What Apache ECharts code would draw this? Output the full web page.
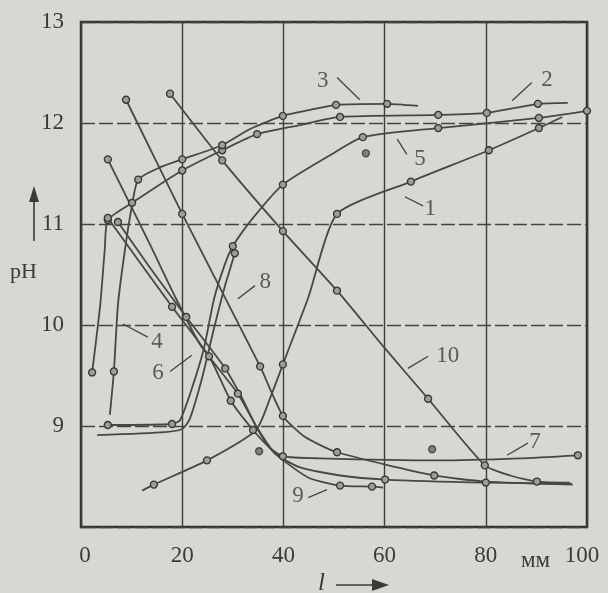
<!DOCTYPE html>
<html><head><meta charset="utf-8">
<script src="https://cdn.jsdelivr.net/npm/echarts@6/dist/echarts.min.js"></script>
<style>html,body{margin:0;padding:0;background:#d7d7d4;}#c{width:608px;height:593px;}</style>
</head><body><div id="c"></div>
<script>
// x: l, mm ; y: pH ; third value: 1 = measured point (marker), 0 = drawn curve only
const xTicks = [0, 20, 40, 60, 80, 100];
const yTicks = [9, 10, 11, 12, 13];
const curve1 = [[12.1,8.36,0],[14.4,8.42,1],[24.9,8.66,1],[34.6,8.96,0],[37.4,9.28,0],[39.9,9.61,1],[44.9,10.27,0],[50.6,11.10,1],[65.2,11.42,1],[80.6,11.73,1],[90.5,11.95,1],[95.1,12.06,0]];
const curve2 = [[2.2,9.53,1],[3.8,10.20,0],[4.7,10.75,0],[5.3,11.04,1],[10.1,11.21,1],[20.0,11.53,1],[27.9,11.73,1],[34.8,11.89,1],[43.3,11.98,0],[51.2,12.06,1],[70.6,12.08,1],[80.2,12.10,1],[90.3,12.19,1],[96.2,12.20,0]];
const curve3 = [[5.7,9.11,0],[6.5,9.54,1],[7.3,10.20,0],[8.7,10.75,0],[10.1,11.19,0],[11.3,11.44,1],[15.6,11.56,0],[20.0,11.64,1],[27.9,11.78,1],[33.4,11.94,0],[39.9,12.07,1],[45.3,12.13,0],[50.4,12.18,1],[60.5,12.19,1],[66.6,12.17,0]];
const curve4 = [[5.3,11.64,1],[13.6,10.80,0],[18.8,10.26,0],[23.5,9.81,0],[31.0,9.32,1],[34.6,9.00,0],[38.3,8.73,0],[43.3,8.59,0],[51.2,8.51,0],[60.1,8.47,1],[80.0,8.44,1],[97.0,8.43,0]];
const curve5 = [[5.3,9.01,1],[18.0,9.02,1],[19.6,9.06,0],[21.9,9.37,0],[24.3,9.77,0],[26.3,10.26,0],[28.5,10.61,0],[30.0,10.78,1],[34.0,11.06,0],[39.9,11.39,1],[49.2,11.68,0],[55.7,11.86,1],[70.6,11.95,1],[90.5,12.05,1],[100,12.12,1]];
const curve6 = [[3.2,8.91,0],[16.6,8.94,0],[20.0,8.97,0],[21.5,9.07,0],[23.9,9.47,0],[26.3,9.97,0],[28.3,10.36,0],[30.4,10.71,1]];
const curve7 = [[5.3,11.06,1],[18.0,10.18,1],[25.3,9.69,1],[29.6,9.25,1],[34.0,8.96,1],[37.4,8.78,0],[39.9,8.70,1],[47.2,8.68,0],[70.4,8.66,0],[86.8,8.68,0],[98.2,8.71,1]];
const curve8 = [[8.9,12.23,1],[20.0,11.10,1],[35.4,9.59,1],[39.9,9.10,1],[44.3,8.89,0],[50.6,8.74,1],[69.8,8.51,1],[80.0,8.45,0],[97.2,8.42,0]];
const curve9 = [[7.3,11.02,1],[13.6,10.57,0],[20.8,10.08,1],[28.5,9.57,1],[31.8,9.28,0],[35.0,8.96,0],[37.7,8.76,0],[41.3,8.61,0],[45.3,8.48,0],[51.2,8.41,1],[57.5,8.40,1],[59.7,8.39,0]];
const curve10 = [[17.6,12.29,1],[27.9,11.63,1],[39.9,10.93,1],[50.6,10.34,1],[59.7,9.79,0],[68.6,9.27,1],[79.8,8.61,1],[84.8,8.51,0],[90.1,8.45,1],[96.6,8.44,0]];
const loosePoints = [[35.2,8.75],[69.4,8.77],[56.3,11.70]];
const curveLabels = [['1',69.0,11.15],['2',92.1,12.43],['3',47.8,12.42],['4',15.0,9.83],['5',67.0,11.64],['6',15.2,9.53],['7',89.7,8.84],['8',36.4,10.43],['9',42.9,8.31],['10',72.5,9.69]];
const leaders = [[[64.0,11.27],[67.6,11.18]],[[85.2,12.22],[89.1,12.40]],[[50.6,12.45],[55.1,12.23]],[[8.3,10.01],[13.2,9.88]],[[62.5,11.84],[64.4,11.69]],[[17.6,9.54],[21.9,9.70]],[[84.2,8.71],[88.3,8.83]],[[31.0,10.26],[34.4,10.39]],[[44.9,8.29],[48.6,8.37]],[[64.6,9.57],[68.6,9.69]]];

const FONT = "'Liberation Serif','Times New Roman',serif";
const INK = '#3a3a3a';
const curves = [curve1,curve2,curve3,curve4,curve5,curve6,curve7,curve8,curve9,curve10];
const series = curves.map((c, i) => ({
  type: 'line', name: 'curve' + (i + 1),
  data: c.map(p => ({ value: [p[0], p[1]], symbol: p[2] ? 'circle' : 'none' })),
  smooth: 0.2, showSymbol: true, showAllSymbol: true, symbolSize: 7,
  lineStyle: { color: '#474747', width: 1.8 },
  itemStyle: { color: '#9c9c99', borderColor: '#353535', borderWidth: 1.3 },
  z: 3, silent: true
}));
series.push({
  type: 'scatter', data: loosePoints, symbolSize: 7,
  itemStyle: { color: '#6a6a68', borderColor: '#353535', borderWidth: 1.3 }, z: 4, silent: true
});
series.push({
  type: 'scatter',
  data: curveLabels.map(p => ({ name: p[0], value: [p[1], p[2]] })),
  symbolSize: 1, itemStyle: { color: 'transparent' }, silent: true, z: 5,
  label: { show: true, position: 'inside', formatter: '{b}', fontSize: 23, color: INK, fontFamily: FONT },
  markLine: {
    silent: true, symbol: ['none', 'none'], label: { show: false },
    lineStyle: { color: '#444', width: 1.3, type: 'solid' },
    data: leaders.map(l => [{ coord: l[0] }, { coord: l[1] }])
  }
});

const chart = echarts.init(document.getElementById('c'), null, { renderer: 'canvas' });
chart.setOption({
  animation: false,
  backgroundColor: '#d7d7d4',
  grid: { left: 81, right: 21, top: 22, bottom: 66, show: true, borderColor: '#333', borderWidth: 2.5, backgroundColor: 'transparent' },
  xAxis: {
    type: 'value', min: xTicks[0], max: xTicks[xTicks.length - 1], interval: 20,
    axisLine: { show: false }, axisTick: { show: false },
    splitLine: { show: true, lineStyle: { color: '#3e3e3e', width: 1.4 } },
    axisLabel: {
      margin: 17, fontSize: 23, color: INK, fontFamily: FONT,
      formatter: v => v === 0 ? '{z|0}' : (v === 100 ? '{r|100}' : String(v)),
      rich: {
        z: { padding: [0, 0, 0, 8], fontSize: 23, color: INK, fontFamily: FONT },
        r: { padding: [0, 10, 0, 0], fontSize: 23, color: INK, fontFamily: FONT }
      }
    }
  },
  yAxis: {
    type: 'value', min: 8, max: yTicks[yTicks.length - 1], interval: 1,
    axisLine: { show: false }, axisTick: { show: false },
    splitLine: { show: true, lineStyle: { color: '#444', width: 1.4, type: [14, 4] } },
    axisLabel: { margin: 17, fontSize: 23, color: INK, fontFamily: FONT, formatter: v => yTicks.includes(v) ? String(v) : '' }
  },
  graphic: [
    { type: 'text', left: 10, top: 261, style: { text: 'pH', font: '22px ' + FONT, fill: INK } },
    { type: 'line', shape: { x1: 34, y1: 241, x2: 34, y2: 198 }, style: { stroke: INK, lineWidth: 1.6 } },
    { type: 'polygon', shape: { points: [[29, 202], [39, 202], [34, 186]] }, style: { fill: INK } },
    { type: 'text', left: 318, top: 571, style: { text: 'l', font: 'italic 25px ' + FONT, fill: INK } },
    { type: 'line', shape: { x1: 336, y1: 585, x2: 376, y2: 585 }, style: { stroke: INK, lineWidth: 1.6 } },
    { type: 'polygon', shape: { points: [[372, 579], [372, 591], [389, 585]] }, style: { fill: INK } },
    { type: 'text', left: 521, top: 549, style: { text: 'мм', font: '23px ' + FONT, fill: INK } }
  ],
  series: series
});
</script></body></html>
